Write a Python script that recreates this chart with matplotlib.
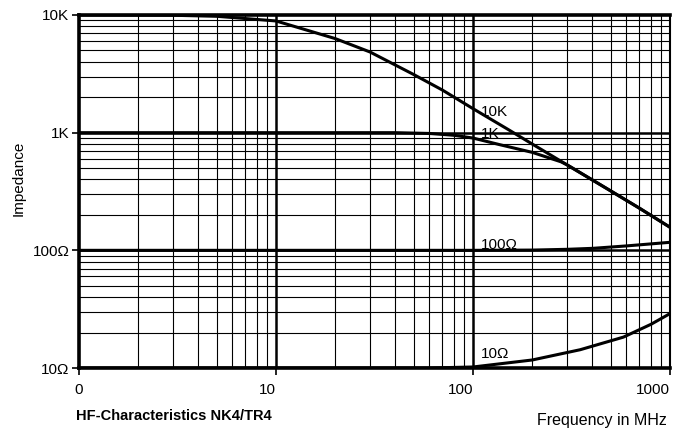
import numpy as np
import matplotlib
matplotlib.use("Agg")
import matplotlib.pyplot as plt
from matplotlib.ticker import FixedLocator, NullFormatter

plt.rcParams['font.family'] = ['Liberation Sans', 'DejaVu Sans']

# Data (frequency in MHz, impedance in ohm)
f_10k = [1, 3, 5, 10, 20, 30, 50, 70, 100, 150, 200, 300, 500, 700, 1000]
z_10k = [10000, 9950, 9750, 8900, 6300, 4850, 3120, 2300, 1600, 1070, 800, 533, 320, 228, 157]

f_1k = [1, 40, 60, 80, 100, 137, 200, 280, 300, 500, 700, 1000]
z_1k = [1000, 1000, 985, 950, 900, 790, 680, 565, 533, 320, 228, 157]

f_100 = [1, 100, 200, 300, 406, 600, 1000]
z_100 = [100, 100, 100.5, 102, 104, 109, 117]

f_10 = [1, 60, 100, 200, 350, 580, 800, 1000]
z_10 = [10, 10, 10.2, 11.7, 14.3, 18.3, 23.5, 29]

x_ticks = [1, 10, 100, 1000]
x_ticklabels = ["0", "10", "100", "1000"]
y_ticks = [10, 100, 1000, 10000]
y_ticklabels = ["10\u03a9", "100\u03a9", "1K", "10K"]

fig = plt.figure(figsize=(6.88, 4.33), dpi=100)
ax = fig.add_axes([79/688, 1-368/433, (670-79)/688, (368-15)/433])
ax.set_xscale('log')
ax.set_yscale('log')
ax.set_xlim(1, 1000)
ax.set_ylim(10, 10000)

# grid
minor = [m * 10**d for d in range(0, 4) for m in range(2, 10)]
for v in minor:
    if v < 1000:
        ax.axvline(v, color='black', lw=0.8, zorder=1)
    if 10 < v < 10000:
        ax.axhline(v, color='black', lw=0.8, zorder=1)
for v in [10, 100]:
    ax.axvline(v, color='black', lw=1.8, zorder=1)
for v in [100, 1000]:
    ax.axhline(v, color='black', lw=1.8, zorder=1)

for fx, zy in [(f_10k, z_10k), (f_1k, z_1k), (f_100, z_100), (f_10, z_10)]:
    ax.plot(fx, zy, color='black', lw=2.2, zorder=3, solid_capstyle='butt')

lab_fs = 11
ax.text(110, 1500, "10K", fontsize=lab_fs, ha='left', va='center')
ax.text(110, 980, "1K", fontsize=lab_fs, ha='left', va='center')
ax.text(110, 110, "100\u03a9", fontsize=lab_fs, ha='left', va='center')
ax.text(110, 13.1, "10\u03a9", fontsize=lab_fs, ha='left', va='center')

ax.xaxis.set_major_locator(FixedLocator(x_ticks))
ax.set_xticklabels(x_ticklabels)
ax.xaxis.set_minor_locator(FixedLocator([]))
ax.xaxis.set_minor_formatter(NullFormatter())
ax.yaxis.set_major_locator(FixedLocator(y_ticks))
ax.set_yticklabels(y_ticklabels)
ax.yaxis.set_minor_locator(FixedLocator([]))
ax.yaxis.set_minor_formatter(NullFormatter())
ax.tick_params(axis='both', which='major', direction='out', length=5, width=1.2,
               labelsize=11, color='black')
ax.tick_params(axis='x', pad=6)
ax.tick_params(axis='y', pad=2)
for i, lbl in enumerate(ax.get_xticklabels()):
    if i > 0:
        lbl.set_horizontalalignment('right')

for side in ['left', 'bottom', 'top']:
    ax.spines[side].set_linewidth(2.6)
ax.spines['right'].set_linewidth(1.5)

ax.set_ylabel("Impedance", fontsize=11)
ax.yaxis.set_label_coords((26-79)/591, (368-178)/353)
fig.text(76/688, 1-416/433, "HF-Characteristics NK4/TR4", fontsize=10.5,
         fontweight='bold', ha='left', va='center')
fig.text(667/688, 1-420/433, "Frequency in MHz", fontsize=11.5, ha='right', va='center')

fig.savefig("out.png", dpi=100)
